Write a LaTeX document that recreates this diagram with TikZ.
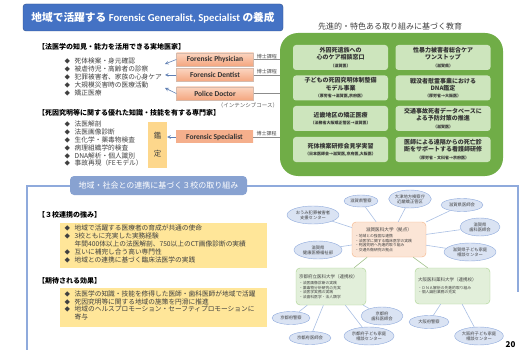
\documentclass[tikz,border=0pt]{standalone}
\usepackage{fontspec}
\setmainfont{Noto Sans CJK JP}
\newfontfamily\latinfont{Carlito}
\usetikzlibrary{shapes.geometric}

\definecolor{titleblue}{HTML}{4472C4}
\definecolor{docorange}{HTML}{F4A67F}
\definecolor{docorangelt}{HTML}{FBD4BF}
\definecolor{kanteiyellow}{HTML}{FDD78C}
\definecolor{advgreen}{HTML}{70AD47}
\definecolor{advlight}{HTML}{CDE5BD}
\definecolor{frameblue}{HTML}{8FAADC}
\definecolor{noteyellow}{HTML}{FFE699}
\definecolor{hubfill}{HTML}{FBE5D6}
\definecolor{hubdraw}{HTML}{F4B183}
\definecolor{schoolfill}{HTML}{E2EFDA}
\definecolor{schooldraw}{HTML}{A9D18E}
\definecolor{partnerfill}{HTML}{DAE3F3}
\definecolor{linkblue}{HTML}{A9BFE3}
\definecolor{arrowblue}{HTML}{5F7FB3}
\definecolor{textgray}{HTML}{404040}

\newcommand{\dia}{{\fontsize{5.5}{5}\selectfont ◆}\hspace{4.5pt}}
\newcommand{\srcnote}[1]{{\fontsize{4}{5}\selectfont #1}}

\begin{document}
\begin{tikzpicture}[x=1pt, y=-1pt,
    head/.style={anchor=west, inner sep=0pt, font=\fontsize{7}{8}\selectfont\bfseries},
    bullets/.style={anchor=north west, inner sep=0pt, align=left, font=\fontsize{6.7}{7.8}\selectfont, text=textgray},
    doctor/.style={draw=docorange!70!black!50, top color=docorangelt, bottom color=docorange, minimum width=77pt, minimum height=13pt, inner sep=0pt, font=\latinfont\fontsize{7.5}{9}\selectfont\bfseries, text=black!80},
    arr/.style={->, >=stealth, arrowblue, semithick},
    course/.style={draw=black!45, thin},
    degree/.style={above, inner sep=0.8pt, font=\fontsize{5}{6}\selectfont, text=black!70},
    advcell/.style={fill=advlight, rounded corners=3pt, minimum width=95pt, minimum height=25pt, inner sep=1pt, align=center, font=\fontsize{6}{7.2}\selectfont\bfseries, text=black!80},
    note/.style={fill=noteyellow, minimum width=207pt, inner sep=0pt},
    hubbox/.style={draw=hubdraw, fill=hubfill, rounded corners=4pt, inner sep=3pt, align=left, font=\fontsize{3.8}{4.6}\selectfont, text=textgray},
    school/.style={draw=schooldraw, fill=schoolfill, rounded corners=4pt, inner sep=3pt, align=left, font=\fontsize{3.8}{4.6}\selectfont, text=textgray},
    partner/.style={ellipse, draw=frameblue, fill=partnerfill, inner sep=0pt, align=center, font=\fontsize{4.3}{5}\selectfont, text=textgray},
    link/.style={linkblue, semithick},
    schoollink/.style={schooldraw!80!gray, semithick}
  ]
  \useasboundingbox (0,0) rectangle (522,350);

  % title
  \node[draw=titleblue!70!black, fill=titleblue, rounded corners=3pt, minimum width=260pt, minimum height=27pt,
        text=white, font=\fontsize{10.7}{12}\selectfont\bfseries] (title) at (153,17.5)
        {地域で活躍する {\latinfont Forensic Generalist, Specialist} の養成};

  % practitioners
  \node[head] (knowhead) at (38,47) {【法医学の知見・能力を活用できる実地医家】};
  \node[bullets] (knowlist) at (64.5,58) {\dia 死体検案・身元確認\\\dia 被虐待児・高齢者の診察\\\dia 犯罪被害者、家族の心身ケア\\\dia 大規模災害時の医療活動\\\dia 矯正医療};

  \node[doctor] (phys)   at (215,59.5) {Forensic Physician};
  \node[doctor] (dent)   at (215,75)   {Forensic Dentist};
  \node[doctor] (police) at (215,93.5) {Police Doctor};

  \coordinate (phys-tip)   at (165,64);
  \coordinate (dent-tip)   at (165,75);
  \coordinate (police-tip) at (165,88);
  \draw[arr] (phys.west)   -- (phys-tip);
  \draw[arr] (dent.west)   -- (dent-tip);
  \draw[arr] (police.west) -- (police-tip);

  % specialists
  \node[head] (spechead) at (38,113) {【死因究明等に関する優れた知識・技能を有する専門家】};
  \node[bullets] (speclist) at (64.5,121) {\dia 法医解剖\\\dia 法医画像診断\\\dia 生化学・薬毒物検査\\\dia 病理組織学的検査\\\dia DNA解析・個人識別\\\dia 事故再現（FEモデル）};

  \node[fill=kanteiyellow, minimum width=19pt, minimum height=46pt, inner sep=0pt, align=center,
        font=\fontsize{7.5}{18}\selectfont, text=textgray] (kantei) at (157.5,145) {鑑\\定};
  \node[doctor, draw=none, top color=docorange!90, bottom color=docorange!90, minimum height=12pt] (specialist) at (214.5,137) {Forensic Specialist};
  \draw[arr] (specialist.west) -- (specialist.west -| kantei.east);

  % advanced education
  \node[fill=advgreen, rounded corners=18pt, minimum width=223pt, minimum height=143pt] (adv) at (391.5,104.5) {};
  \node[font=\fontsize{8}{9}\selectfont, text=black!75] (advtitle) at (390,26) {先進的・特色ある取り組みに基づく教育};

  \node[advcell] (a11) at (340.5,57.5)  {外因死遺族への\\心のケア相談窓口\\\srcnote{（滋賀医）}};
  \node[advcell] (a12) at (443,57.5)    {性暴力被害者総合ケア\\ワンストップ\\\srcnote{（滋賀県）}};
  \node[advcell] (a21) at (340.5,88)    {子どもの死因究明体制整備\\モデル事業\\\srcnote{（厚労省→滋賀医,京府医）}};
  \node[advcell] (a22) at (443,88)      {戦没者慰霊事業における\\DNA鑑定\\\srcnote{（厚労省→大阪医）}};
  \node[advcell] (a31) at (340.5,118.5) {近畿地区の矯正医療\\\srcnote{（法務省大阪矯正管区→滋賀医）}};
  \node[advcell] (a32) at (443,118.5)   {交通事故死者データベースに\\よる予防対策の推進\\\srcnote{（滋賀医）}};
  \node[advcell] (a41) at (340.5,149.5) {死体検案研修会見学実習\\\srcnote{（日本医師会→滋賀医,京府医,大阪医）}};
  \node[advcell] (a42) at (443,149.5)   {医師による遠隔からの死亡診\\断をサポートする看護師研修\\\srcnote{（厚労省・文科省→京府医）}};

  % doctoral courses
  \draw[course] (phys.east)       -- (phys.east -| adv.west)       node[degree, midway] {博士課程};
  \draw[course] (dent.east)       -- (dent.east -| adv.west)       node[degree, midway] {博士課程};
  \draw[course] (police.east)     -- (police.east -| adv.west);
  \draw[course] (specialist.east) -- (specialist.east -| adv.west) node[degree, midway] {博士課程};
  \node[font=\fontsize{5.5}{6}\selectfont, text=black!65] (intensive) at (248,105) {（インテンシブコース）};

  % three universities
  \draw[frameblue, line width=1.3pt] (27,350) -- (27,186) -- (518,186) -- (518,292);
  \node[fill=frameblue!95!black, rounded corners=4pt, minimum width=177pt, minimum height=19pt, inner sep=0pt,
        text=white, font=\fontsize{8}{9}\selectfont] (tab) at (158.5,185.5) {地域・社会との連携に基づく３校の取り組み};

  \node[head] (strhead) at (38,215) {【３校連携の強み】};
  \node[note, minimum height=45pt] (strbox) at (163.5,245.5) {};
  \node[bullets] (strlist) at (64.5,225) {\dia 地域で活躍する医療者の育成が共通の使命\\\dia 3校ともに充実した実務経験\\\hspace*{10pt}年間400体以上の法医解剖、750以上のCT画像診断の実績\\\dia 互いに補完し合う高い専門性\\\dia 地域との連携に基づく臨床法医学の実践};

  \node[head] (effhead) at (38,281) {【期待される効果】};
  \node[note, minimum height=39pt] (effbox) at (163.5,307.5) {};
  \node[bullets] (efflist) at (64.5,290.5) {\dia 法医学の知識・技能を修得した医師・歯科医師が地域で活躍\\\dia 死因究明等に関する地域の施策を円滑に推進\\\dia 地域のヘルスプロモーション・セーフティプロモーションに\\\hspace*{10pt}寄与};

  % network
  \node[hubbox, text width=68pt, minimum height=35pt] (hub) at (389,239.5)
    {\makebox[\linewidth]{\fontsize{4.6}{5}\selectfont 滋賀医科大学（拠点）}\\[1.5pt]・地域との強固な連携\\・法医学に関する臨床医学の実践\\・死因究明へ先進的取り組み\\・交通外傷研究の拠点};
  \node[school, text width=64pt, minimum height=37pt] (kyoto) at (331,286.5)
    {\makebox[\linewidth][l]{\fontsize{4.5}{5}\selectfont 京都府立医科大学（連携校）}\\[1.5pt]・法医画像診断の実践\\・薬毒物分析研究の充実\\・法医学実務の実践\\・法歯科医学・法人類学};
  \node[school, text width=69pt, minimum height=36pt] (osaka) at (452.5,286)
    {\makebox[\linewidth][l]{\fontsize{4.5}{5}\selectfont 大阪医科薬科大学（連携校）}\\[3pt]・ＤＮＡ解析の先進的取り組み\\・個人識別業務の充実};

  \node[partner, minimum width=52pt, minimum height=18pt] (ohmi)        at (313,215) {おうみ犯罪被害者\\支援センター};
  \node[partner, minimum width=34pt, minimum height=12pt] (shigapol)    at (361,201) {滋賀県警察};
  \node[partner, minimum width=40pt, minimum height=18pt] (kensatsu)    at (410,199) {大津地方検察庁\\近畿矯正管区};
  \node[partner, minimum width=42pt, minimum height=13pt] (shigamed)    at (462,205) {滋賀県医師会};
  \node[partner, minimum width=40pt, minimum height=18pt] (shigadent)   at (480,227) {滋賀県\\歯科医師会};
  \node[partner, minimum width=52pt, minimum height=18pt] (shigachild)  at (470,252) {滋賀県子ども家庭\\相談センター};
  \node[partner, minimum width=48pt, minimum height=18pt] (shigahealth) at (318,250) {滋賀県\\健康医療福祉部};
  \node[partner, minimum width=38pt, minimum height=13pt] (kyotopol)    at (291,318) {京都府警察};
  \node[partner, minimum width=42pt, minimum height=13pt] (kyotomed)    at (310,338) {京都府医師会};
  \node[partner, minimum width=50pt, minimum height=18pt] (kyotochild)  at (369,336) {京都府子ども家庭\\相談センター};
  \node[partner, minimum width=42pt, minimum height=18pt] (kyotodent)   at (382,316) {京都府\\歯科医師会};
  \node[partner, minimum width=40pt, minimum height=13pt] (osakapol)    at (429,322) {大阪府警察};
  \node[partner, minimum width=48pt, minimum height=18pt] (osakachild)  at (479,336) {大阪府子ども家庭\\相談センター};

  \draw[link] (hub) -- (ohmi);
  \draw[link] (hub) -- (shigapol);
  \draw[link] (hub) -- (kensatsu);
  \draw[link] (hub) -- (shigamed);
  \draw[link] (hub) -- (shigadent);
  \draw[link] (hub) -- (shigachild);
  \draw[link] (hub) -- (shigahealth);
  \draw[schoollink] (hub) -- (kyoto);
  \draw[schoollink] (hub) -- (osaka);
  \draw[link] (kyoto) -- (kyotopol);
  \draw[link] (kyoto) -- (kyotomed);
  \draw[link] (kyoto) -- (kyotochild);
  \draw[link] (kyoto) -- (kyotodent);
  \draw[link] (osaka) -- (osakapol);
  \draw[link] (osaka) -- (osakachild);

  \node[font=\fontsize{8}{9}\selectfont\bfseries] (pagenum) at (510.5,345) {20};
\end{tikzpicture}
\end{document}
